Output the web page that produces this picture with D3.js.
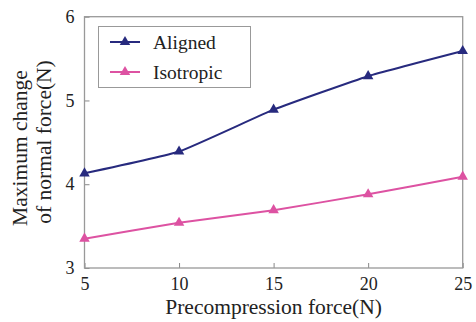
<!DOCTYPE html>
<html>
<head>
<meta charset="utf-8">
<script src="https://cdn.jsdelivr.net/npm/d3@7"></script>
<style>
  html, body { margin: 0; padding: 0; background: #fff; }
  svg { display: block; }
</style>
</head>
<body>
<svg id="chart" width="476" height="322"></svg>
<script>
// Precompression force (N)
const forces = [5, 10, 15, 20, 25];
// Maximum change of normal force (N)
const aligned = [4.13, 4.39, 4.89, 5.29, 5.59];
const isotropic = [3.35, 3.54, 3.69, 3.88, 4.09];
const seriesNames = ["Aligned", "Isotropic"];
const seriesColors = ["#272a7e", "#dd52a2"];
const xTicks = [5, 10, 15, 20, 25];
const yTicks = [3, 4, 5, 6];

const FONT = "'Liberation Serif', 'Times New Roman', Times, serif";
const svg = d3.select("#chart").attr("font-family", FONT);
const margin = { left: 84.5, right: 13.3, top: 16.7, bottom: 54 };
const W = 476, H = 322;
const x = d3.scaleLinear().domain([5, 25]).range([margin.left, W - margin.right]);
const y = d3.scaleLinear().domain([3, 6]).range([H - margin.bottom, margin.top]);

// x axis: inward ticks, labels below
const xAxis = svg.append("g")
  .attr("transform", `translate(0,${y(3)})`)
  .call(d3.axisBottom(x).tickValues(xTicks).tickFormat(d3.format("d"))
    .tickSizeInner(-5).tickSizeOuter(0).tickPadding(9));
xAxis.attr("font-family", FONT).attr("font-size", 18);
xAxis.select(".domain").remove();
xAxis.selectAll(".tick line").attr("stroke", "#888");
xAxis.selectAll(".tick text").attr("fill", "#222");

// y axis: inward ticks, labels left
const yAxis = svg.append("g")
  .attr("transform", `translate(${x(5)},0)`)
  .call(d3.axisLeft(y).tickValues(yTicks).tickFormat(d3.format("d"))
    .tickSizeInner(-5).tickSizeOuter(0).tickPadding(10));
yAxis.attr("font-family", FONT).attr("font-size", 18);
yAxis.select(".domain").remove();
yAxis.selectAll(".tick line").attr("stroke", "#888");
yAxis.selectAll(".tick text").attr("fill", "#222");

// plot frame
svg.append("rect")
  .attr("x", x(5)).attr("y", y(6))
  .attr("width", x(25) - x(5)).attr("height", y(3) - y(6))
  .attr("fill", "none").attr("stroke", "#999").attr("stroke-width", 1.3);

// series lines and markers
const tri = d3.symbol().type(d3.symbolTriangle).size(48);
const data = [aligned, isotropic];
const line = d3.line().x((d, i) => x(forces[i])).y(d => y(d)).curve(d3.curveCardinal.tension(0.6));

data.forEach((vals, k) => {
  svg.append("path")
    .attr("d", line(vals))
    .attr("fill", "none")
    .attr("stroke", seriesColors[k])
    .attr("stroke-width", 2);
  svg.selectAll(null).data(vals).enter().append("path")
    .attr("d", tri)
    .attr("transform", (d, i) => `translate(${x(forces[i])},${y(d)})`)
    .attr("fill", seriesColors[k]);
});

// legend
const lg = svg.append("g");
lg.append("rect")
  .attr("x", 98.5).attr("y", 26.5).attr("width", 152).attr("height", 61)
  .attr("fill", "#fff").attr("stroke", "#999").attr("stroke-width", 1);
seriesNames.forEach((name, k) => {
  const cy = 42 + k * 30;
  lg.append("line")
    .attr("x1", 110).attr("x2", 140).attr("y1", cy).attr("y2", cy)
    .attr("stroke", seriesColors[k]).attr("stroke-width", 2);
  lg.append("path").attr("d", tri).attr("transform", `translate(125,${cy})`).attr("fill", seriesColors[k]);
  lg.append("text").attr("x", 153).attr("y", cy + 6.5)
    .attr("font-size", 19.5).attr("fill", "#222").text(name);
});

// axis titles
svg.append("text")
  .attr("x", (x(5) + x(25)) / 2).attr("y", 314)
  .attr("text-anchor", "middle")
  .attr("font-size", 21.5).attr("fill", "#222")
  .text("Precompression force(N)");

const yt = svg.append("text")
  .attr("transform", "translate(0,150) rotate(-90)")
  .attr("text-anchor", "middle")
  .attr("font-size", 21.5).attr("fill", "#222");
yt.append("tspan").attr("x", 2).attr("y", 27).text("Maximum change");
yt.append("tspan").attr("x", 8).attr("y", 51).text("of normal force(N)");
</script>
</body>
</html>
